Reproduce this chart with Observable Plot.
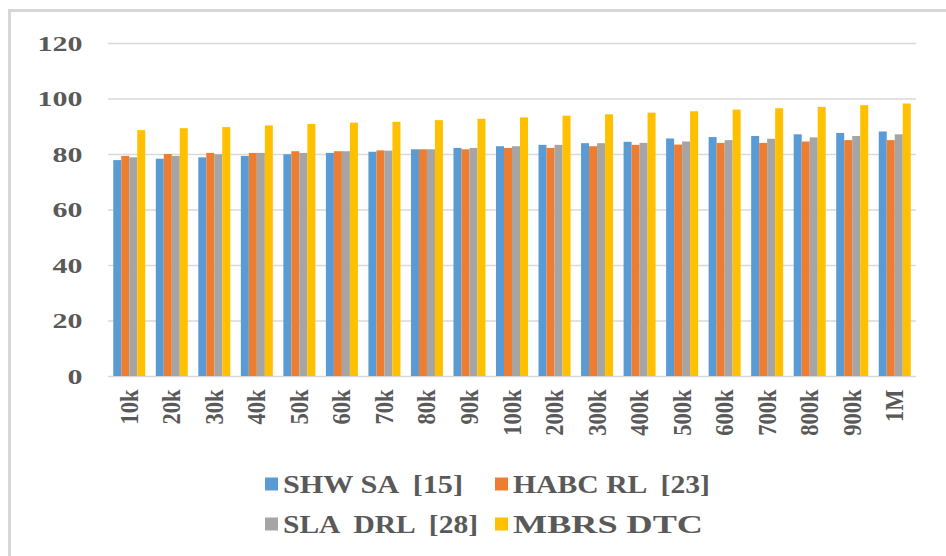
<!DOCTYPE html>
<html>
<head>
<meta charset="utf-8">
<script src="https://cdn.jsdelivr.net/npm/d3@7"></script>
<script src="https://cdn.jsdelivr.net/npm/@observablehq/plot@0.6"></script>
<style>
  html, body { margin: 0; padding: 0; background: #fff; }
  #wrap { position: relative; width: 946px; height: 556px; overflow: hidden; background: #fff; }
  #frame { position: absolute; left: 8px; top: 9px; width: 1000px; height: 700px;
           border-left: 3px solid #d6d6d6; border-top: 3px solid #d6d6d6; }
  #chart { position: absolute; left: 0; top: 0; }
  #legend { position: absolute; left: 0; top: 450px; }
</style>
</head>
<body>
<div id="wrap">
  <div id="frame"></div>
  <div id="chart"></div>
  <div id="legend"></div>
</div>
<script>
const categories = ["10k","20k","30k","40k","50k","60k","70k","80k","90k","100k","200k","300k","400k","500k","600k","700k","800k","900k","1M"];
const seriesNames = ["SHW SA  [15]", "HABC RL  [23]", "SLA  DRL  [28]", "MBRS DTC"];
const seriesColors = ["#5B9BD5", "#ED7D31", "#A5A5A5", "#FFC000"];
const shwSA  = [77.8, 78.3, 78.8, 79.3, 79.9, 80.4, 80.8, 81.7, 82.2, 82.8, 83.3, 83.9, 84.4, 85.6, 86.1, 86.5, 87.1, 87.6, 88.1];
const habcRL = [79.3, 80.0, 80.4, 80.4, 81.0, 81.0, 81.3, 81.7, 81.7, 82.2, 82.2, 82.8, 83.3, 83.4, 84.0, 84.0, 84.5, 85.0, 85.0];
const slaDRL = [78.8, 79.3, 79.9, 80.4, 80.4, 81.0, 81.2, 81.7, 82.2, 82.8, 83.3, 83.9, 84.0, 84.5, 85.0, 85.5, 86.0, 86.5, 87.1];
const mbrsDTC= [88.6, 89.3, 89.7, 90.3, 90.8, 91.3, 91.6, 92.2, 92.7, 93.2, 93.8, 94.3, 94.9, 95.4, 96.0, 96.5, 97.0, 97.6, 98.2];
const yTicks = [0, 20, 40, 60, 80, 100, 120];

const seriesValues = [shwSA, habcRL, slaDRL, mbrsDTC];

const W = 946, H = 450, mL = 108, mR = 30, mT = 43, mB = 74;
const band = (W - mL - mR) / categories.length;
const barW = 8;
const groupOff = (band - barW * seriesNames.length) / 2;

const barMarks = seriesValues.map((vals, i) =>
  Plot.barY(categories.map((c, j) => ({cat: c, value: vals[j], series: seriesNames[i]})), {
    x: "cat", y: "value", fill: seriesColors[i],
    insetLeft: groupOff + barW * i,
    insetRight: band - groupOff - barW * (i + 1)
  })
);

const chart = Plot.plot({
  width: W, height: H,
  marginLeft: mL, marginRight: mR, marginTop: mT, marginBottom: mB,
  style: {fontFamily: "'Liberation Serif', 'Times New Roman', serif", fontWeight: "bold", color: "#595959", background: "transparent", overflow: "visible"},
  x: {domain: categories, padding: 0, round: false, tickSize: 0, tickPadding: 13, tickRotate: -90, label: null},
  y: {domain: [0, 120], ticks: yTicks, tickSize: 0, tickPadding: 26, label: null},
  marks: [
    Plot.ruleY(yTicks, {stroke: "#d9d9d9", strokeWidth: 1.5}),
    ...barMarks
  ]
});
document.getElementById("chart").appendChild(chart);

function styleText(el, size) {
  el.setAttribute("font-size", size);
  el.setAttribute("font-weight", "bold");
  el.setAttribute("fill", "#595959");
  el.setAttribute("xml:space", "preserve");
  el.style.whiteSpace = "pre";
}
function stretch(el, size, factor) {
  styleText(el, size);
  const len = el.getComputedTextLength();
  el.setAttribute("textLength", (len * factor).toFixed(1));
  el.setAttribute("lengthAdjust", "spacingAndGlyphs");
}
chart.querySelectorAll('g[aria-label^="y-axis"] text').forEach(t => stretch(t, 22, 1.36));
chart.querySelectorAll('g[aria-label^="x-axis"] text').forEach(t => stretch(t, 25, 0.9));

// Legend
const leg = d3.select("#legend").append("svg")
  .attr("width", W).attr("height", 106)
  .style("font-family", "'Liberation Serif', 'Times New Roman', serif")
  .style("font-weight", "bold");
const legPos = [[265, 34], [495, 34], [265, 74], [495, 74]];
const legWidths = [180, 197, 195, 190];
seriesNames.forEach((name, i) => {
  const [x, cy] = legPos[i];
  leg.append("rect").attr("x", x).attr("y", cy - 6.5).attr("width", 13).attr("height", 13).attr("fill", seriesColors[i]);
  const t = leg.append("text").attr("x", x + 18).attr("y", cy + 9).text(name).node();
  styleText(t, 26);
  t.setAttribute("textLength", legWidths[i]);
  t.setAttribute("lengthAdjust", "spacingAndGlyphs");
});
</script>
</body>
</html>
